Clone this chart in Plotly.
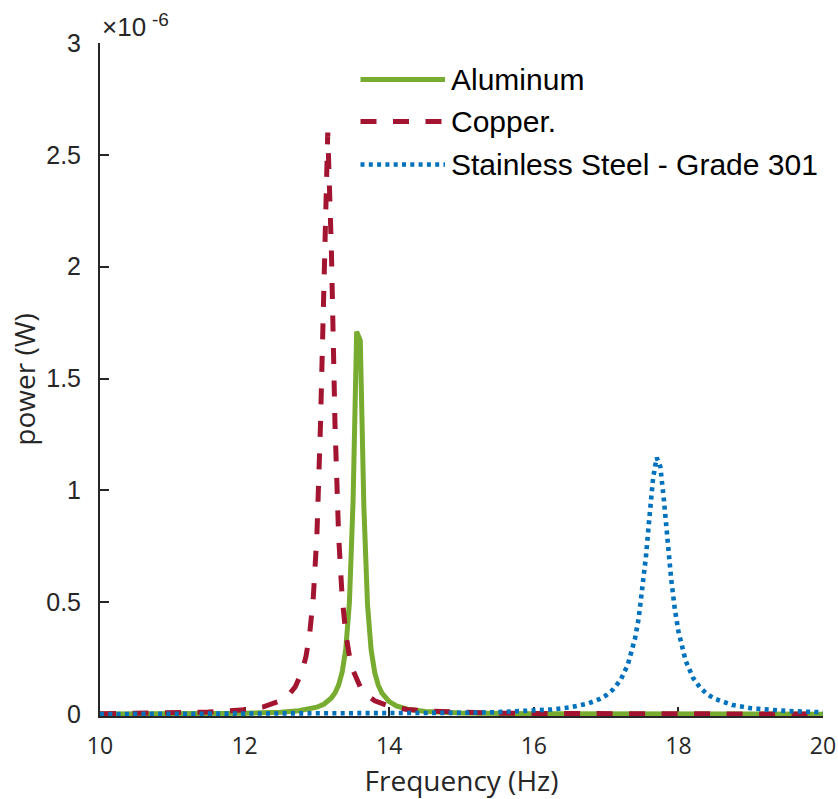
import plotly.graph_objects as go

# Power spectra of three plate materials (power in units of 1e-6 W)
freq_al = [10, 11, 12, 12.5, 12.75, 13.0, 13.1, 13.2, 13.25, 13.3, 13.35, 13.4, 13.45,
           13.5, 13.55, 13.6, 13.65, 13.7, 13.75, 13.8, 13.85, 13.9, 13.95, 14.0, 14.1,
           14.25, 14.5, 15, 16, 17, 18, 19, 20]
power_al = [0.0008, 0.0016, 0.0042, 0.0091, 0.0154, 0.0314, 0.0457, 0.0723, 0.0951,
            0.1303, 0.1885, 0.293, 0.501, 0.948, 1.71, 1.67, 0.923, 0.489, 0.287,
            0.1855, 0.1286, 0.094, 0.0716, 0.0562, 0.0373, 0.0227, 0.0122, 0.0052,
            0.0018, 0.0009, 0.0005, 0.0003, 0.0002]

freq_cu = [10, 10.5, 11, 11.5, 12, 12.25, 12.5, 12.6, 12.7, 12.8, 12.85, 12.9, 12.95,
           13.0, 13.05, 13.1, 13.15, 13.2, 13.25, 13.3, 13.35, 13.4, 13.45, 13.5, 13.6,
           13.7, 13.8, 14.0, 14.25, 14.5, 15, 15.5, 16, 17, 18, 19, 20]
power_cu = [0.0026, 0.0037, 0.0056, 0.0095, 0.0195, 0.0317, 0.060, 0.083, 0.122, 0.196,
            0.26, 0.359, 0.52, 0.80, 1.30, 2.08, 2.6, 2.08, 1.30, 0.80, 0.52, 0.359,
            0.26, 0.196, 0.122, 0.083, 0.060, 0.0355, 0.0213, 0.0142, 0.0076, 0.0047,
            0.0032, 0.0018, 0.0011, 0.0008, 0.0006]

freq_ss = [10, 11, 12, 13, 14, 15, 15.5, 16, 16.25, 16.5, 16.75, 16.9, 17.0, 17.1, 17.2,
           17.3, 17.4, 17.45, 17.5, 17.55, 17.6, 17.65, 17.7, 17.75, 17.8, 17.85, 17.9,
           17.95, 18.0, 18.1, 18.2, 18.3, 18.4, 18.5, 18.75, 19.0, 19.5, 20]
power_ss = [0.0008, 0.001, 0.0014, 0.0021, 0.0033, 0.0062, 0.0093, 0.0155, 0.0212,
            0.0306, 0.0478, 0.0661, 0.0845, 0.1116, 0.153, 0.221, 0.338, 0.4275, 0.547,
            0.701, 0.883, 1.055, 1.147, 1.106, 0.956, 0.772, 0.604, 0.471, 0.371,
            0.2395, 0.164, 0.1185, 0.0891, 0.0693, 0.041, 0.027, 0.0142, 0.0087]

series_names = ["Aluminum", "Copper.", "Stainless Steel - Grade 301"]
series_colors = ["#77AC30", "#A2142F", "#0072BD"]
series_dash = ["solid", "16px,16.5px", "4px,4.3px"]
series_width = [5, 5, 4.6]

x_ticks = [10, 12, 14, 16, 18, 20]
y_ticks = [0, 0.5, 1, 1.5, 2, 2.5, 3]
y_ticktext = ["0", "0.5", "1", "1.5", "2", "2.5", "3"]

series = [(freq_al, power_al), (freq_cu, power_cu), (freq_ss, power_ss)]

fig = go.Figure()
for (fx, py), name, color, dash, w in zip(series, series_names, series_colors,
                                          series_dash, series_width):
    fig.add_trace(go.Scatter(x=fx, y=py, mode="lines", name=name,
                             line=dict(color=color, dash=dash, width=w),
                             showlegend=False))

# Figure geometry (pixels)
W, H = 838, 799
L, R, T, B = 100, 15, 43, 83
pw, ph = W - L - R, H - T - B


def px_x(p):
    return (p - L) / pw


def px_y(p):
    return (H - B - p) / ph


axis_color = "#262626"
arial = "Liberation Sans, Arial"

# Hand-built legend with long line samples
legend_rows = [79.5, 121.5, 164.5]
legend_x0, legend_x1, legend_text_x = 360.5, 445, 450
shapes = []
annotations = []
for row_y, name, color, dash, w in zip(legend_rows, series_names, series_colors,
                                       series_dash, series_width):
    shapes.append(dict(type="line", xref="paper", yref="paper",
                       x0=px_x(legend_x0), x1=px_x(legend_x1),
                       y0=px_y(row_y), y1=px_y(row_y),
                       line=dict(color=color, dash=dash, width=w)))
    annotations.append(dict(xref="paper", yref="paper", x=px_x(legend_text_x),
                            y=px_y(row_y), xanchor="left", yanchor="middle",
                            text=name, showarrow=False, borderpad=0,
                            font=dict(family=arial, size=30, color="#000000")))

# Exponent label of the y axis: "×10" with a raised "-6"
annotations.append(dict(xref="paper", yref="paper", x=px_x(101), y=px_y(27),
                        xanchor="left", yanchor="middle", showarrow=False,
                        borderpad=0, text="×10",
                        font=dict(family=arial, size=26, color=axis_color)))
annotations.append(dict(xref="paper", yref="paper", x=px_x(151), y=px_y(20),
                        xanchor="left", yanchor="middle", showarrow=False,
                        borderpad=0, text="-6",
                        font=dict(family=arial, size=19, color=axis_color)))

fig.update_layout(
    width=W, height=H,
    margin=dict(l=L, r=R, t=T, b=B, pad=0, autoexpand=False),
    paper_bgcolor="white", plot_bgcolor="white",
    shapes=shapes, annotations=annotations,
    showlegend=False,
)

fig.update_xaxes(
    range=[10, 20], tickvals=x_ticks, ticktext=[str(v) for v in x_ticks],
    ticks="inside", ticklen=9, tickwidth=2, tickcolor=axis_color,
    showline=True, linecolor=axis_color, linewidth=2, mirror=False,
    showgrid=False, zeroline=False, layer="below traces", automargin=False,
    tickfont=dict(family="Open Sans", size=23, color=axis_color),
    ticklabelstandoff=8,
    title=dict(text="Frequency (Hz)", standoff=4,
               font=dict(family="Open Sans", size=28, color=axis_color)),
)
fig.update_yaxes(
    range=[-0.008, 3], tickvals=y_ticks, ticktext=y_ticktext,
    ticks="inside", ticklen=9, tickwidth=2, tickcolor=axis_color,
    showline=True, linecolor=axis_color, linewidth=2, mirror=False,
    showgrid=False, zeroline=False, layer="below traces", automargin=False,
    tickfont=dict(family=arial, size=25, color=axis_color),
    ticklabelstandoff=12,
    title=dict(text="power (W)", standoff=2,
               font=dict(family="Open Sans", size=28, color=axis_color)),
)

fig.write_html("out.html")
